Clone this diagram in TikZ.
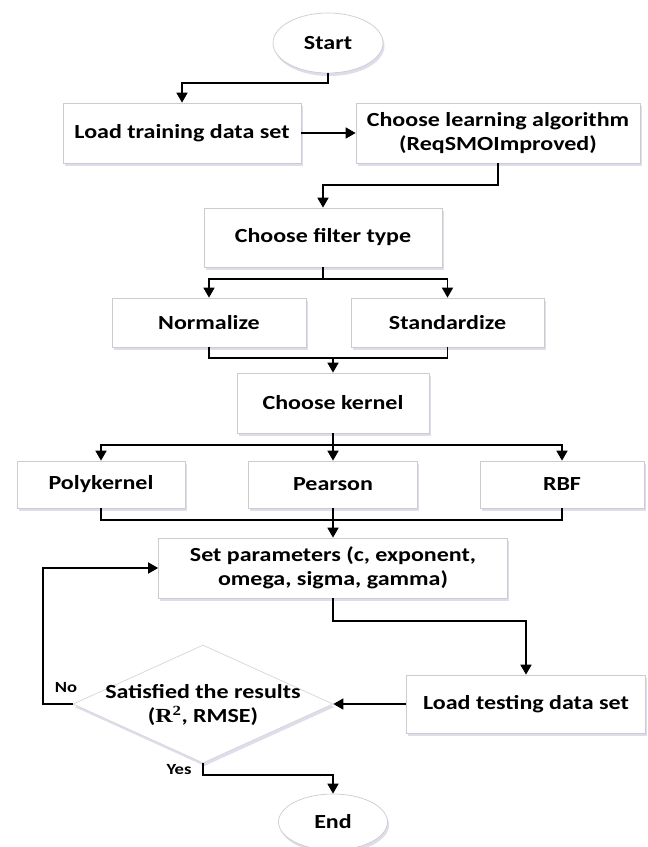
\documentclass[tikz,border=0pt]{standalone}
\usepackage{fontspec}
\setmainfont{Carlito}[FakeStretch=1.2]
\newfontfamily\rfont{Liberation Serif}[FakeStretch=1.2]
\usetikzlibrary{shapes.geometric,arrows.meta,shadows}
\begin{document}
\begin{tikzpicture}[x=1pt,y=-1pt,
  line width=1.6pt,
  arr/.style={-{Triangle[width=11pt,length=10pt]}},
  shad/.style={drop shadow={shadow xshift=1.5pt,shadow yshift=-3pt,fill=blue!25!gray!35,opacity=0.6}},
  box/.style={shad,draw=black!20,line width=0.7pt,fill=white,rectangle,inner sep=0pt,
    font=\fontsize{20}{24}\selectfont\bfseries,align=center},
  oval/.style={shad,draw=black!20,line width=0.7pt,fill=white,ellipse,inner sep=0pt,
    minimum width=110pt,minimum height=60pt,font=\fontsize{20}{24}\selectfont\bfseries},
  dia/.style={shad,draw=black!16,line width=0.7pt,fill=white,diamond,inner sep=0pt,
    minimum width=260pt,minimum height=118pt},
  txt/.style={font=\fontsize{20}{24}\selectfont\bfseries,align=center,inner sep=0pt},
  lbl/.style={font=\fontsize{15.5}{18}\selectfont\bfseries,inner sep=0pt}
]
\useasboundingbox[fill=white] (0,0) rectangle (648,847);

\node[oval] (start) at (328,43) {Start};
\node[box,minimum width=238pt,minimum height=60pt] (load) at (182,133) {Load training data set};
\node[box,minimum width=284pt,minimum height=60pt] (choose) at (498,133) {Choose learning algorithm\\(ReqSMOImproved)};
\node[box,minimum width=238pt,minimum height=59pt] (filter) at (323,237.5) {Choose filter type};
\node[box,minimum width=194pt,minimum height=49pt] (norm) at (209,322.5) {Normalize};
\node[box,minimum width=193pt,minimum height=49pt] (stand) at (447.5,322.5) {Standardize};
\node[box,minimum width=192pt,minimum height=60pt] (kernel) at (333,403) {Choose kernel};
\node[box,minimum width=168pt,minimum height=47pt] (poly) at (101,484.5) {Polykernel};
\node[box,minimum width=169pt,minimum height=47pt] (pearson) at (333,484.5) {Pearson};
\node[box,minimum width=164pt,minimum height=47pt] (rbf) at (562,484.5) {RBF};
\node[box,minimum width=349pt,minimum height=60pt] (setp) at (333,568) {Set parameters (c, exponent,\\omega, sigma, gamma)};
\node[box,minimum width=239pt,minimum height=58pt] (test) at (526,704) {Load testing data set};
\node[dia] (sat) at (203,704) {};
\node[txt] (sattxt) at (203,705) {Satisfied the results\\({\rfont\bfseries R\textsuperscript{2}}, RMSE)};
\node[oval,minimum width=109pt,minimum height=56pt] (end) at (333,822) {End};

\node[lbl] (no) at (66,688) {No};
\node[lbl] (yes) at (179,770) {Yes};

\coordinate (s1) at (328,83);
\coordinate (c1) at (498,185);
\coordinate (f1) at (323,279);
\coordinate (m1) at (333,358);
\coordinate (k1) at (333,445);
\coordinate (m2) at (333,520);
\coordinate (p1) at (333,621);
\coordinate (n1) at (43,704);
\coordinate (y1) at (203,775);

\draw[arr] (start.south) -- (s1) -| (load.north);
\draw[arr] (load.east) -- (choose.west);
\draw[arr] (choose.south) -- (c1) -| (filter.north);
\draw (filter.south) -- (f1);
\draw[arr] (f1) -| (norm.north);
\draw[arr] (f1) -| (stand.north);
\draw (norm.south) |- (m1) -| (stand.south);
\draw[arr] (m1) -- (kernel.north);
\draw (kernel.south) -- (k1);
\draw[arr] (k1) -| (poly.north);
\draw[arr] (k1) -- (pearson.north);
\draw[arr] (k1) -| (rbf.north);
\draw (poly.south) |- (m2) -| (rbf.south);
\draw (pearson.south) -- (m2);
\draw[arr] (m2) -- (setp.north);
\draw[arr] (setp.south) |- (p1) -| (test.north);
\draw[arr] (test.west) -- (sat.east);
\draw[arr] (sat.west) -- (n1) |- (setp.west);
\draw[arr] (sat.south) -- (y1) -| (end.north);
\end{tikzpicture}
\end{document}
